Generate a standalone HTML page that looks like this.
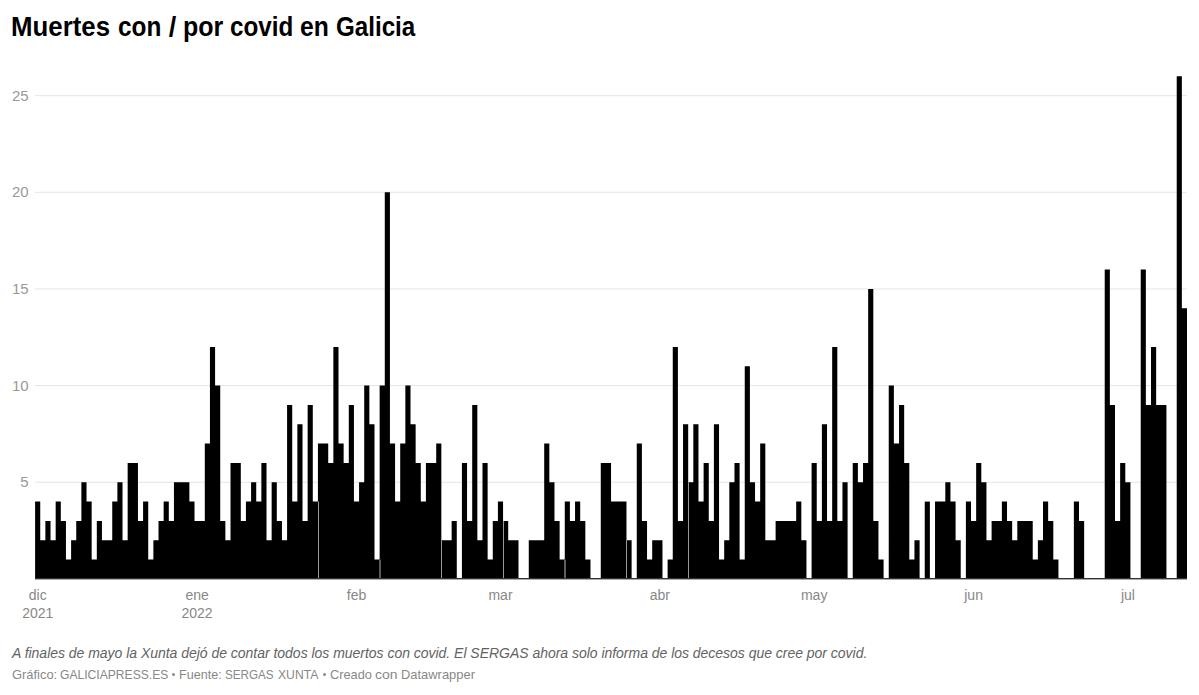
<!DOCTYPE html>
<html><head><meta charset="utf-8"><style>
html,body{margin:0;padding:0;background:#fff;}
body{width:1199px;height:695px;position:relative;overflow:hidden;font-family:"Liberation Sans",sans-serif;}
.title{position:absolute;left:0;top:12px;width:1199px;height:34px;font-size:27px;font-weight:bold;color:#000;white-space:nowrap;}
.title span,.foot span{position:absolute;top:0;transform-origin:0 0;}
.yl{position:absolute;left:0;width:28.6px;text-align:right;font-size:15px;line-height:16px;color:#999;}
.xl{position:absolute;top:585.5px;width:80px;text-align:center;font-size:14px;line-height:18px;color:#888;}
.note{position:absolute;left:12px;top:645px;letter-spacing:-0.025px;font-size:14px;font-style:italic;color:#636363;white-space:nowrap;}
.foot{position:absolute;left:0;top:667px;width:1199px;height:20px;font-size:13.5px;color:#888;white-space:nowrap;}
svg{position:absolute;left:0;top:0;}
.dot{position:absolute;top:673px;width:3px;height:3px;border-radius:50%;background:#8a8a8a;}
</style></head><body>
<div class="title"><span style="left:11.49px;transform:scaleX(0.9564)">Muertes</span><span style="left:117.6px;transform:scaleX(0.9022)">con</span><span style="left:168.75px;transform:scaleX(1.0)">/</span><span style="left:183.15px;transform:scaleX(0.9268)">por</span><span style="left:230.1px;transform:scaleX(0.8971)">covid</span><span style="left:300.09px;transform:scaleX(0.9138)">en</span><span style="left:336.11px;transform:scaleX(0.8943)">Galicia</span></div>
<svg width="1199" height="695" viewBox="0 0 1199 695">
<rect x="35" y="481.75" width="1152" height="1" fill="#e5e5e5"/><rect x="35" y="385.10" width="1152" height="1" fill="#e5e5e5"/><rect x="35" y="288.45" width="1152" height="1" fill="#e5e5e5"/><rect x="35" y="191.80" width="1152" height="1" fill="#e5e5e5"/><rect x="35" y="95.15" width="1152" height="1" fill="#e5e5e5"/>
<g fill="#000"><path d="M35.10 579.00V501.58H40.24V540.24H45.38V520.91H50.53V540.24H55.67V501.58H60.81V520.91H65.95V559.57H71.10V540.24H76.24V520.91H81.38V482.25H86.52V501.58H91.67V559.57H96.81V520.91H101.95V540.24H107.09V540.24H112.24V501.58H117.38V482.25H122.52V540.24H127.66V462.92H132.81V462.92H137.95V520.91H143.09V501.58H148.23V559.57H153.38V540.24H158.52V520.91H163.66V501.58H168.80V520.91H173.95V482.25H179.09V482.25H184.23V482.25H189.37V501.58H194.51V520.91H199.66V520.91H204.80V443.59H209.94V346.94H215.08V385.60H220.23V520.91H225.37V540.24H230.51V462.92H235.65V462.92H240.80V520.91H245.94V501.58H251.08V482.25H256.22V501.58H261.37V462.92H266.51V540.24H271.65V482.25H276.79V520.91H281.94V540.24H287.08V404.93H292.22V501.58H297.36V424.26H302.51V520.91H307.65V404.93H312.79V501.58H317.93V443.59H323.08V443.59H328.22V462.92H333.36V346.94H338.50V443.59H343.64V462.92H348.79V404.93H353.93V501.58H359.07V482.25H364.21V385.60H369.36V424.26H374.50V559.57H379.64V385.60H384.78V192.30H389.93V443.59H395.07V501.58H400.21V443.59H405.35V385.60H410.50V424.26H415.64V462.92H420.78V501.58H425.92V462.92H431.07V462.92H436.21V443.59H441.35V540.24H446.49V540.24H451.64V520.91H456.78V579.00Z"/><path d="M461.92 579.00V462.92H467.06V520.91H472.20V404.93H477.35V540.24H482.49V462.92H487.63V559.57H492.77V520.91H497.92V501.58H503.06V520.91H508.20V540.24H513.34V540.24H518.49V579.00Z"/><path d="M528.77 579.00V540.24H533.91V540.24H539.06V540.24H544.20V443.59H549.34V482.25H554.48V520.91H559.63V559.57H564.77V501.58H569.91V520.91H575.05V501.58H580.20V520.91H585.34V559.57H590.48V579.00Z"/><path d="M600.77 579.00V462.92H605.91V462.92H611.05V501.58H616.19V501.58H621.33V501.58H626.48V540.24H631.62V579.00Z"/><path d="M636.76 579.00V443.59H641.90V520.91H647.05V559.57H652.19V540.24H657.33V540.24H662.47V579.00Z"/><path d="M667.62 579.00V559.57H672.76V346.94H677.90V520.91H683.04V424.26H688.19V482.25H693.33V424.26H698.47V501.58H703.61V462.92H708.76V520.91H713.90V424.26H719.04V559.57H724.18V540.24H729.33V482.25H734.47V462.92H739.61V559.57H744.75V366.27H749.90V482.25H755.04V501.58H760.18V443.59H765.32V540.24H770.46V540.24H775.61V520.91H780.75V520.91H785.89V520.91H791.03V520.91H796.18V501.58H801.32V540.24H806.46V579.00Z"/><path d="M811.60 579.00V462.92H816.75V520.91H821.89V424.26H827.03V520.91H832.17V346.94H837.32V520.91H842.46V482.25H847.60V579.00Z"/><path d="M852.74 579.00V462.92H857.89V482.25H863.03V462.92H868.17V288.95H873.31V520.91H878.46V559.57H883.60V579.00Z"/><path d="M888.74 579.00V385.60H893.88V443.59H899.03V404.93H904.17V462.92H909.31V559.57H914.45V540.24H919.59V579.00Z"/><path d="M924.74 579.00V501.58H929.88V579.00Z"/><path d="M935.02 579.00V501.58H940.16V501.58H945.31V482.25H950.45V501.58H955.59V540.24H960.73V579.00Z"/><path d="M965.88 579.00V501.58H971.02V520.91H976.16V462.92H981.30V482.25H986.45V540.24H991.59V520.91H996.73V520.91H1001.87V501.58H1007.02V520.91H1012.16V540.24H1017.30V520.91H1022.44V520.91H1027.59V520.91H1032.73V559.57H1037.87V540.24H1043.01V501.58H1048.15V520.91H1053.30V559.57H1058.44V579.00Z"/><path d="M1073.87 579.00V501.58H1079.01V520.91H1084.15V579.00Z"/><path d="M1104.72 579.00V269.62H1109.86V404.93H1115.01V520.91H1120.15V462.92H1125.29V482.25H1130.43V579.00Z"/><path d="M1140.72 579.00V269.62H1145.86V404.93H1151.00V346.94H1156.15V404.93H1161.29V404.93H1166.43V579.00Z"/><path d="M1176.72 579.00V76.32H1181.86V308.28H1187.00V579.00Z"/></g>
<rect x="35" y="578" width="1152" height="1" fill="#333"/><rect x="35" y="579" width="1152" height="1" fill="#aaa"/><rect x="318" y="501.58" width="1" height="76.42" fill="#999"/><rect x="379" y="559.57" width="2" height="18.43" fill="#5a5a5a"/><rect x="441" y="540.24" width="1" height="37.76" fill="#999"/><rect x="503" y="520.91" width="1" height="57.09" fill="#999"/><rect x="564" y="559.57" width="2" height="18.43" fill="#606060"/><rect x="626" y="540.24" width="1" height="37.76" fill="#999"/><rect x="688" y="482.25" width="1" height="95.75" fill="#999"/>
</svg>
<div class="yl" style="top:474.2px">5</div><div class="yl" style="top:377.6px">10</div><div class="yl" style="top:280.9px">15</div><div class="yl" style="top:184.3px">20</div><div class="yl" style="top:87.7px">25</div>
<div class="xl" style="left:-2.3px">dic<br>2021</div><div class="xl" style="left:157.1px">ene<br>2022</div><div class="xl" style="left:316.5px">feb</div><div class="xl" style="left:460.5px">mar</div><div class="xl" style="left:619.9px">abr</div><div class="xl" style="left:774.2px">may</div><div class="xl" style="left:933.6px">jun</div><div class="xl" style="left:1087.9px">jul</div>
<div class="note">A finales de mayo la Xunta dejó de contar todos los muertos con covid. El SERGAS ahora solo informa de los decesos que cree por covid.</div>
<div class="foot"><span style="left:11.54px;transform:scaleX(0.9556)">Gráfico:</span><span style="left:59.85px;transform:scaleX(0.8971)">GALICIAPRESS.ES</span><span style="left:178.77px;transform:scaleX(0.9341)">Fuente:</span><span style="left:224.94px;transform:scaleX(0.8636)">SERGAS</span><span style="left:277.8px;transform:scaleX(0.9)">XUNTA</span><span style="left:330.05px;transform:scaleX(0.9465)">Creado</span><span style="left:375.36px;transform:scaleX(1.035)">con</span><span style="left:400.84px;transform:scaleX(0.9566)">Datawrapper</span></div><div class="dot" style="left:172px"></div><div class="dot" style="left:323px"></div>
</body></html>
